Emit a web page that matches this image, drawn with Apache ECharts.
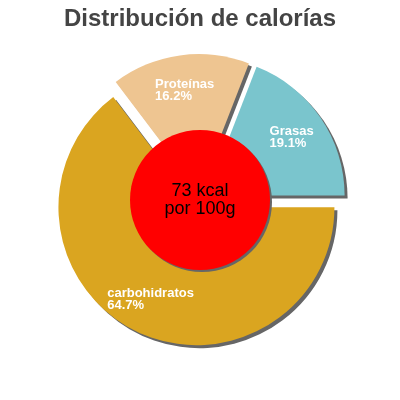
<!DOCTYPE html>
<html>
<head>
<meta charset="utf-8">
<script src="https://cdn.jsdelivr.net/npm/echarts@6/dist/echarts.min.js"></script>
<style>
  html, body { margin: 0; padding: 0; background: #fff; }
  #chart { width: 400px; height: 400px; }
</style>
</head>
<body>
<div id="chart"></div>
<script>
// datos
var categories = ['Grasas', 'Proteínas', 'carbohidratos'];
var percents = [19.1, 16.2, 64.7];
var colors = ['#7ac5cd', '#eec591', '#daa520'];
var centerText = ['73 kcal', 'por 100g'];

var myChart = echarts.init(document.getElementById('chart'));

var slices = categories.map(function (name, i) {
  return { name: name, value: percents[i], selected: true, itemStyle: { color: colors[i] } };
});
var labelSlices = categories.map(function (name, i) {
  return { name: name, value: percents[i], selected: true };
});

var shadow = { shadowBlur: 0, shadowOffsetX: 3, shadowOffsetY: 3, shadowColor: '#666' };

myChart.setOption({
  animation: false,
  title: {
    text: 'Distribución de calorías',
    left: 'center',
    top: 2,
    textStyle: { fontFamily: 'Liberation Sans', fontSize: 24, fontWeight: 'bold', color: '#444' }
  },
  series: [
    {
      type: 'pie',
      center: [200, 200],
      radius: [0, 138],
      startAngle: 0,
      clockwise: false,
      selectedMode: 'multiple',
      selectedOffset: 8,
      silent: true,
      label: { show: false },
      labelLine: { show: false },
      itemStyle: Object.assign({ borderWidth: 0 }, shadow),
      emphasis: { disabled: true },
      data: slices
    },
    {
      // capa de etiquetas
      type: 'pie',
      center: [200, 200],
      radius: [62, 138],
      startAngle: 0,
      clockwise: false,
      selectedMode: 'multiple',
      selectedOffset: 8,
      silent: true,
      itemStyle: { color: 'rgba(0,0,0,0)' },
      emphasis: { disabled: true },
      labelLine: { show: false },
      label: {
        show: true,
        position: 'inside',
        align: 'center',
        formatter: '{a|{b}}\n{a|{c}%}',
        rich: {
          a: { fontFamily: 'Liberation Sans', fontSize: 13, fontWeight: 'bold', lineHeight: 12, color: '#fff', align: 'left' }
        }
      },
      data: labelSlices
    },
    {
      type: 'pie',
      center: [200, 200],
      radius: [0, 70],
      silent: true,
      itemStyle: Object.assign({ color: '#ff0000' }, { shadowBlur: 0, shadowOffsetX: 2, shadowOffsetY: 2, shadowColor: '#666' }),
      emphasis: { disabled: true },
      labelLine: { show: false },
      label: {
        show: true,
        position: 'center',
        formatter: centerText.join('\n'),
        fontFamily: 'Liberation Sans',
        fontSize: 18,
        lineHeight: 18,
        color: '#000'
      },
      data: [{ name: 'kcal', value: 73 }]
    }
  ]
});
</script>
</body>
</html>
